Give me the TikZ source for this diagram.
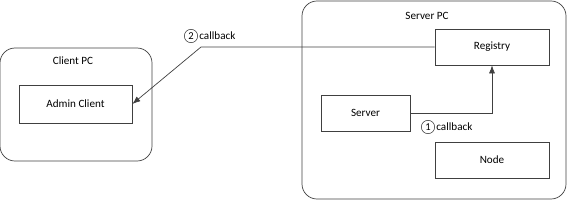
\documentclass[tikz,border=0pt]{standalone}
\usepackage{fontspec}
\setmainfont{Carlito}
\usetikzlibrary{positioning,arrows.meta}
\definecolor{linegray}{HTML}{404040}

\begin{document}
\begin{tikzpicture}[x=0.03cm,y=-0.03cm,font=\fontsize{9.5}{11}\selectfont,
    pcbox/.style={draw=linegray,line width=0.6pt,rounded corners=0.45cm,inner sep=0pt},
    compbox/.style={draw=linegray,line width=0.6pt,inner sep=0pt},
    stepnum/.style={draw=linegray,circle,line width=0.5pt,inner sep=0pt,minimum size=0.4cm,font=\fontsize{9}{10}\selectfont},
    callarrow/.style={draw=linegray,line width=0.6pt,-{Latex[length=2.4mm,width=1.8mm]}}]
        \useasboundingbox (0,0) rectangle (568,200);
        % machines
        \node[pcbox,minimum width=4.56cm,minimum height=3.39cm] (clientpc) at (76,104.5) {};
        \node (clientlbl) at (73,61) {Client PC};
        \node[pcbox,minimum width=7.92cm,minimum height=5.94cm] (serverpc) at (434,100) {};
        \node (serverlbl) at (427,16) {Server PC};
        % components
        \node[compbox,minimum width=3.39cm,minimum height=1.14cm] (admin) at (75.5,104) {Admin Client};
        \node[compbox,minimum width=3.42cm,minimum height=1.08cm] (registry) at (492,47) {Registry};
        \node[compbox,minimum width=2.67cm,minimum height=1.08cm] (server) at (365.5,113) {Server};
        \node[compbox,minimum width=3.42cm,minimum height=1.08cm] (node) at (492,160) {Node};
        % callbacks
        \coordinate (bend) at (201,47);
        \draw[callarrow] (server.east) -| (registry.south);
        \draw[callarrow] (registry.west) -- (bend) -- (admin.east);
        \node[stepnum] (one) at (428,127) {1};
        \node[right=1pt of one,inner sep=0pt] (onelbl) {callback};
        \node[stepnum] (two) at (191,36) {2};
        \node[right=1pt of two,inner sep=0pt] (twolbl) {callback};
    \end{tikzpicture}
\end{document}
